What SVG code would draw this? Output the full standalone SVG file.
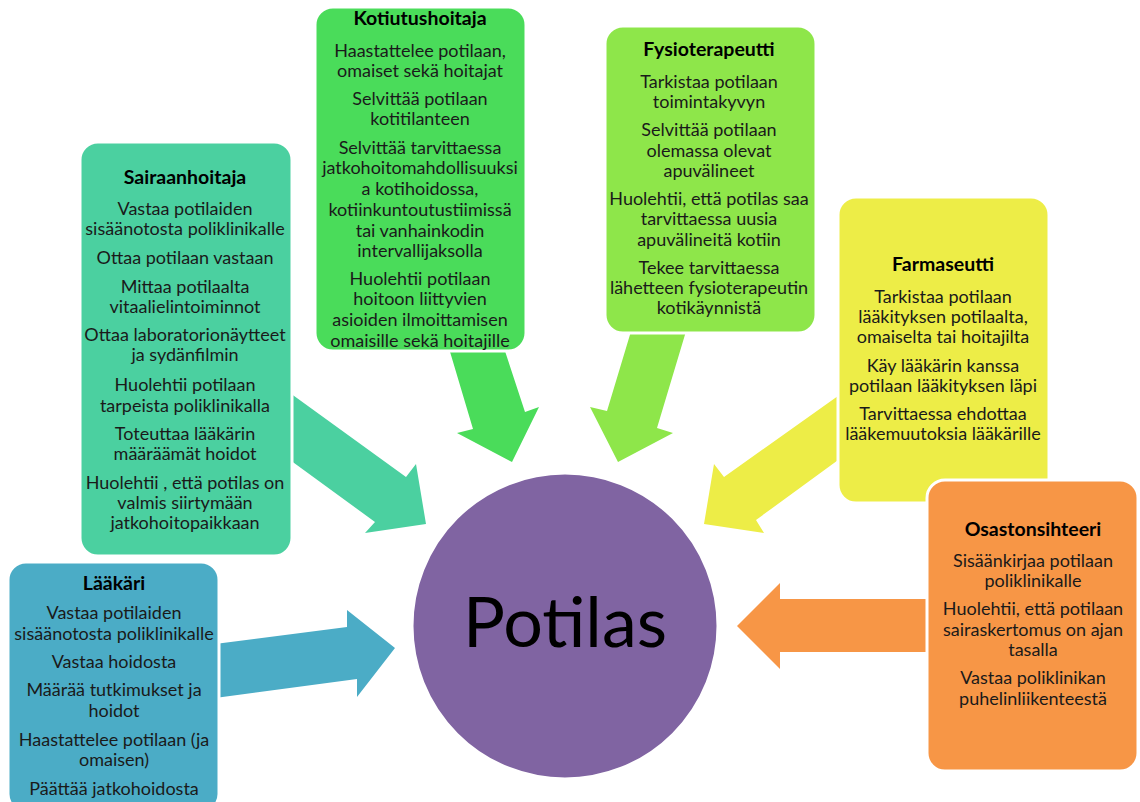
<svg xmlns="http://www.w3.org/2000/svg" width="1140" height="802" viewBox="0 0 1140 802">
<style>
.box{stroke:#fff;stroke-width:3}
.t{font-family:Lato,"Open Sans","Liberation Sans",sans-serif;font-size:18px;fill:#1a1a1a;text-anchor:middle}
.h{font-family:Lato,"Open Sans","Liberation Sans",sans-serif;font-size:19.5px;font-weight:bold;fill:#000;text-anchor:middle}
.arr{stroke:none}
</style>
<rect width="1140" height="802" fill="#fff"/>
<g id="connectors">
<polygon class="arr" fill="#4BACC6" points="215,644 347,627 347,610 395,648 357,697 357,679 215,698"/>
<polygon class="arr" fill="#4BD0A0" points="290,393 406,477 416,464 426,524 365,533 375,522 290,460"/>
<polygon class="arr" fill="#4ADC5A" points="448,345 503,345 525,412 539,407 512,462 457,433 473,429"/>
<polygon class="arr" fill="#8EE64A" points="632,328 687,328 657,428 673,433 618,462 590,407 607,411"/>
<polygon class="arr" fill="#EDED47" points="845,391 724,477 714,464 704,524 764,533 756,520 845,455"/>
<polygon class="arr" fill="#F79646" points="935,599 780,599 780,583 737,626 780,669 780,652 935,652"/>
</g>
<g id="laakari">
<rect class="box" x="8" y="562" width="211" height="250" rx="18" fill="#4BACC6"/>
<text class="h" x="114" y="590">Lääkäri</text>
<text class="t" x="114" y="619">Vastaa potilaiden</text>
<text class="t" x="114" y="640">sisäänotosta poliklinikalle</text>
<text class="t" x="114" y="668">Vastaa hoidosta</text>
<text class="t" x="114" y="696">Määrää  tutkimukset ja</text>
<text class="t" x="114" y="717">hoidot</text>
<text class="t" x="114" y="746">Haastattelee potilaan (ja</text>
<text class="t" x="114" y="766">omaisen)</text>
<text class="t" x="114" y="795">Päättää jatkohoidosta</text>
</g>
<g id="sairaanhoitaja">
<rect class="box" x="80" y="142" width="212" height="414" rx="18" fill="#4BD0A0"/>
<text class="h" x="185" y="184">Sairaanhoitaja</text>
<text class="t" x="185" y="215">Vastaa potilaiden</text>
<text class="t" x="185" y="235">sisäänotosta poliklinikalle</text>
<text class="t" x="185" y="264">Ottaa potilaan vastaan</text>
<text class="t" x="185" y="293">Mittaa potilaalta</text>
<text class="t" x="185" y="313">vitaalielintoiminnot</text>
<text class="t" x="185" y="341">Ottaa laboratorionäytteet</text>
<text class="t" x="185" y="361">ja sydänfilmin</text>
<text class="t" x="185" y="391">Huolehtii potilaan</text>
<text class="t" x="185" y="412">tarpeista poliklinikalla</text>
<text class="t" x="185" y="440">Toteuttaa lääkärin</text>
<text class="t" x="185" y="460">määräämät hoidot</text>
<text class="t" x="185" y="489">Huolehtii , että potilas on</text>
<text class="t" x="185" y="509">valmis siirtymään</text>
<text class="t" x="185" y="529">jatkohoitopaikkaan</text>
</g>
<g id="kotiutushoitaja">
<rect class="box" x="315" y="7" width="211" height="344" rx="18" fill="#4ADC5A"/>
<text class="h" x="420" y="25">Kotiutushoitaja</text>
<text class="t" x="420" y="57">Haastattelee potilaan,</text>
<text class="t" x="420" y="77">omaiset sekä hoitajat</text>
<text class="t" x="420" y="105">Selvittää potilaan</text>
<text class="t" x="420" y="125">kotitilanteen</text>
<text class="t" x="420" y="154">Selvittää tarvittaessa</text>
<text class="t" x="420" y="174">jatkohoitomahdollisuuksi</text>
<text class="t" x="420" y="195">a kotihoidossa,</text>
<text class="t" x="420" y="216">kotiinkuntoutustiimissä</text>
<text class="t" x="420" y="237">tai vanhainkodin</text>
<text class="t" x="420" y="257">intervallijaksolla</text>
<text class="t" x="420" y="285">Huolehtii potilaan</text>
<text class="t" x="420" y="305">hoitoon liittyvien</text>
<text class="t" x="420" y="326">asioiden ilmoittamisen</text>
<text class="t" x="420" y="347">omaisille sekä hoitajille</text>
</g>
<g id="fysioterapeutti">
<rect class="box" x="605" y="26" width="211" height="307" rx="18" fill="#8EE64A"/>
<text class="h" x="709" y="56">Fysioterapeutti</text>
<text class="t" x="709" y="88">Tarkistaa potilaan</text>
<text class="t" x="709" y="108">toimintakyvyn</text>
<text class="t" x="709" y="136">Selvittää potilaan</text>
<text class="t" x="709" y="157">olemassa olevat</text>
<text class="t" x="709" y="177">apuvälineet</text>
<text class="t" x="709" y="205">Huolehtii, että potilas saa</text>
<text class="t" x="709" y="225">tarvittaessa uusia</text>
<text class="t" x="709" y="246">apuvälineitä kotiin</text>
<text class="t" x="709" y="274">Tekee tarvittaessa</text>
<text class="t" x="709" y="294">lähetteen fysioterapeutin</text>
<text class="t" x="709" y="314">kotikäynnistä</text>
</g>
<g id="farmaseutti">
<rect class="box" x="838" y="197" width="211" height="306" rx="18" fill="#EDED47"/>
<text class="h" x="943" y="271">Farmaseutti</text>
<text class="t" x="943" y="303">Tarkistaa potilaan</text>
<text class="t" x="943" y="323">lääkityksen potilaalta,</text>
<text class="t" x="943" y="343">omaiselta tai hoitajilta</text>
<text class="t" x="943" y="372">Käy lääkärin kanssa</text>
<text class="t" x="943" y="392">potilaan lääkityksen läpi</text>
<text class="t" x="943" y="420">Tarvittaessa ehdottaa</text>
<text class="t" x="943" y="440">lääkemuutoksia lääkärille</text>
</g>
<g id="osastonsihteeri">
<rect class="box" x="927" y="480" width="211" height="291" rx="18" fill="#F79646"/>
<text class="h" x="1033" y="536">Osastonsihteeri</text>
<text class="t" x="1033" y="567">Sisäänkirjaa potilaan</text>
<text class="t" x="1033" y="587">poliklinikalle</text>
<text class="t" x="1033" y="615">Huolehtii, että potilaan</text>
<text class="t" x="1033" y="636">sairaskertomus on ajan</text>
<text class="t" x="1033" y="656">tasalla</text>
<text class="t" x="1033" y="684">Vastaa poliklinikan</text>
<text class="t" x="1033" y="705">puhelinliikenteestä</text>
</g>
<g id="potilas">
<circle cx="565" cy="626" r="153" fill="#8064A2" stroke="#fff" stroke-width="3"/>
<text x="565" y="647" font-family="Lato,'Open Sans','Liberation Sans',sans-serif" font-size="70" fill="#000" text-anchor="middle">Potilas</text>
</g>
</svg>
